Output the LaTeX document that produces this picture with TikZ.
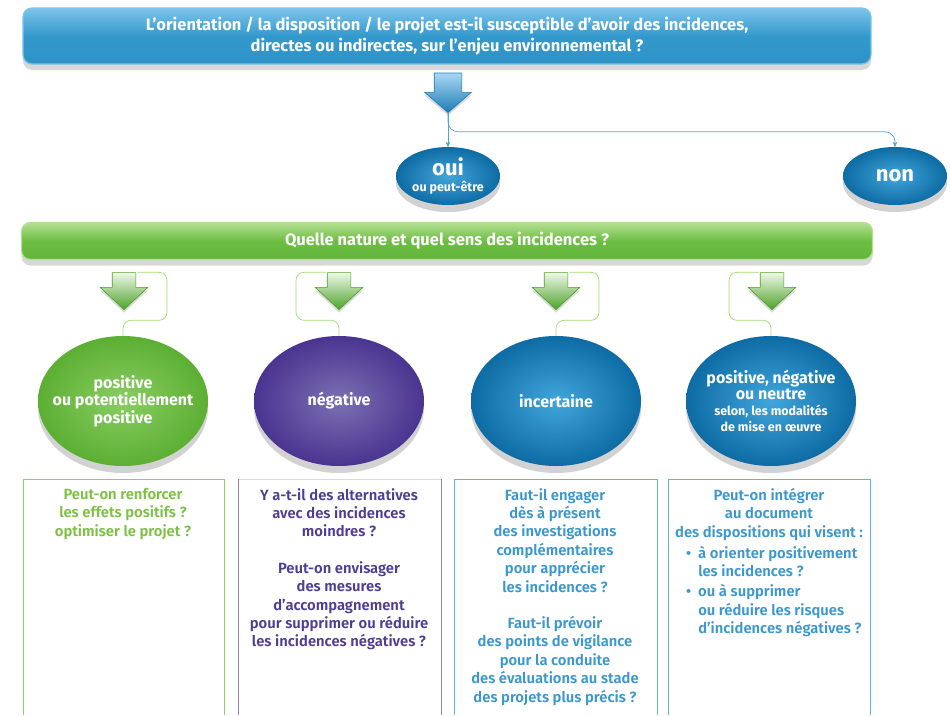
\documentclass[tikz,border=0pt]{standalone}
\usepackage{fontspec}
\setmainfont{Fira Sans}
\newfontfamily\headfont{Fira Sans}
\newfontfamily\boxfont{Fira Sans SemiBold}
\usetikzlibrary{shapes.geometric}
\usetikzlibrary{shapes.arrows}
\usetikzlibrary{shadows}
\usetikzlibrary{arrows}
\usepackage{xcolor}

\definecolor{barblueT}{HTML}{7DC4EA}
\definecolor{barblueM}{HTML}{3399CC}
\definecolor{barblueB}{HTML}{2E92C7}
\definecolor{bargreenT}{HTML}{B5DF91}
\definecolor{bargreenM}{HTML}{6CBE43}
\definecolor{bargreenB}{HTML}{62B53A}
\definecolor{bluearrowT}{HTML}{A8D8F2}
\definecolor{bluearrowB}{HTML}{1F7CB7}
\definecolor{greenarrowT}{HTML}{EEF8E6}
\definecolor{greenarrowB}{HTML}{4FA22B}
\definecolor{ballgreenC}{HTML}{8ACD62}
\definecolor{ballgreenE}{HTML}{5CAF33}
\definecolor{ballpurpleC}{HTML}{7B71B2}
\definecolor{ballpurpleE}{HTML}{4A3490}
\definecolor{ballblueC}{HTML}{41A6DB}
\definecolor{ballblueE}{HTML}{0E6BA4}
\definecolor{linkgreen}{HTML}{A4D97B}
\definecolor{linkblue}{HTML}{4FA6D8}
\definecolor{boxgreen}{HTML}{8CCF63}
\definecolor{boxpurple}{HTML}{8E86C4}
\definecolor{boxlavender}{HTML}{DAD6EC}
\definecolor{boxblue}{HTML}{63B2DF}
\definecolor{txtgreen}{HTML}{7CC142}
\definecolor{txtpurple}{HTML}{4E3D94}
\definecolor{txtblue}{HTML}{3A98CF}

\tikzset{
  bar/.style n args={3}{rectangle, rounded corners=9pt, draw=#1, line width=1.2pt,
    top color=#1, bottom color=#3, middle color=#2, text=white, align=center, inner sep=0pt,
    drop shadow={shadow xshift=0pt, shadow yshift=-6pt, opacity=.3},
    font=\headfont\bfseries\fontsize{16.5}{20.5}\selectfont},
  ball/.style 2 args={ellipse, inner sep=-25pt, minimum width=170pt, minimum height=130pt,
    inner color=#1, outer color=#2, text=white, align=center,
    drop shadow={shadow xshift=0pt, shadow yshift=-7pt, opacity=.35},
    font=\headfont\bfseries\fontsize{16}{16}\selectfont},
  bigarrow/.style 2 args={single arrow, shape border rotate=270, inner sep=11.5pt,
    minimum height=37pt, minimum width=47pt, single arrow head extend=12pt,
    single arrow tip angle=94, top color=#1, bottom color=#2, draw=#2, line width=.6pt,
    drop shadow={shadow xshift=0pt, shadow yshift=-3pt, opacity=.3}},
  bluelink/.style={->, >=stealth', draw=linkblue, line width=.7pt},
  greenlink/.style={draw=linkgreen, line width=.7pt, rounded corners=8pt},
  boxedge/.style={draw=#1, line width=1pt},
  boxtext/.style={inner sep=0pt, font=\boxfont\fontsize{14.8}{18.4}\selectfont},
  boxpara/.style={boxtext, anchor=north, align=center}
}

\begin{document}
\begin{tikzpicture}[x=1pt, y=-1pt]
\fill[white] (0,0) rectangle (950,715);
\useasboundingbox (0,0) rectangle (950,715);

\node[bar={barblueT}{barblueM}{barblueB}, minimum width=848pt, minimum height=56pt] (question) at (447,36)
  {L’orientation / la disposition / le projet est-il susceptible d’avoir des incidences,\\directes ou indirectes, sur l’enjeu environnemental ?};
\node[bigarrow={bluearrowT}{bluearrowB}, inner sep=13.5pt, minimum height=35pt, minimum width=46pt,
  single arrow head extend=9.5pt, single arrow tip angle=98, anchor=tip] (barrow) at (448,113) {};

\node[ball={ballblueC}{ballblueE}, minimum width=104pt, minimum height=58pt] (oui) at (448,176)
  {{\fontsize{22}{22}\selectfont oui}\\{\fontsize{12.5}{13}\selectfont ou peut-être}};
\node[ball={ballblueC}{ballblueE}, minimum width=104pt, minimum height=58pt] (non) at (895,176)
  {\fontsize{22}{22}\selectfont non};
\draw[bluelink] (barrow.tip) -- (oui.north);
\draw[bluelink, rounded corners=10pt] (barrow.tip) |- ([yshift=15pt]non.north) -- (non.north);

\node[bar={bargreenT}{bargreenM}{bargreenB}, minimum width=851pt, minimum height=37pt] (nature) at (447,241)
  {Quelle nature et quel sens des incidences ?};
\foreach \x/\n in {124/arrA,339/arrB,556/arrC,772/arrD}
  \node[bigarrow={greenarrowT}{greenarrowB}, anchor=tip] (\n) at (\x,310) {};

\node[ball={ballgreenC}{ballgreenE}] (ballA) at (123,401) {positive\\ou potentiellement\\positive};
\node[ball={ballpurpleC}{ballpurpleE}] (ballB) at (339,401) {négative};
\node[ball={ballblueC}{ballblueE}] (ballC) at (556,401) {incertaine};
\node[ball={ballblueC}{ballblueE}] (ballD) at (771,401)
  {positive, négative\\ou neutre\\{\fontsize{12.5}{14}\selectfont selon, les modalités}\\{\fontsize{12.5}{14}\selectfont de mise en œuvre}};

\foreach \a/\e/\s in {arrA/ballA/1,arrB/ballB/-1,arrC/ballC/1,arrD/ballD/-1}
  \draw[greenlink] ([xshift={\s*13pt}]\a.tail) -- ++(\s*30,0) -- ++(0,48) -| (\e.north);

\draw[boxedge=boxgreen] (23,715) |- (224,479) -- (224,715);
\draw[boxedge=boxlavender] (238,479) -- (441,479);
\draw[boxedge=boxpurple] (238,715) -- (238,479) (441,479) -- (441,715);
\draw[boxedge=boxblue] (454,715) |- (657,479) -- (657,715);
\draw[boxedge=boxblue] (668,715) |- (870,479) -- (870,715);

\node[boxpara, text=txtgreen] (qA) at (123,488)
  {Peut-on renforcer\\les effets positifs ?\\optimiser le projet ?};
\node[boxpara, text=txtpurple] (qB) at (339,488)
  {Y a-t-il des alternatives\\avec des incidences\\moindres ?\\[18pt]Peut-on envisager\\des mesures\\d’accompagnement\\pour supprimer ou réduire\\les incidences négatives ?};
\node[boxpara, text=txtblue] (qC) at (555,488)
  {Faut-il engager\\dès à présent\\des investigations\\complémentaires\\pour apprécier\\les incidences ?\\[18pt]Faut-il prévoir\\des points de vigilance\\pour la conduite\\des évaluations au stade\\des projets plus précis ?};
\node[boxpara, text=txtblue] (qD) at (769,488)
  {Peut-on intégrer\\au document\\des dispositions qui visent :};
\node[boxtext, text=txtblue, anchor=north west] (qDlist) at (686,545)
  {\begin{tabular}{@{}l@{\hspace{7pt}}l@{}}\textbullet & à orienter positivement\\ & les incidences ?\\[2pt]\textbullet & ou à supprimer\\ & ou réduire les risques\\ & d’incidences négatives ?\end{tabular}};
\end{tikzpicture}
\end{document}
